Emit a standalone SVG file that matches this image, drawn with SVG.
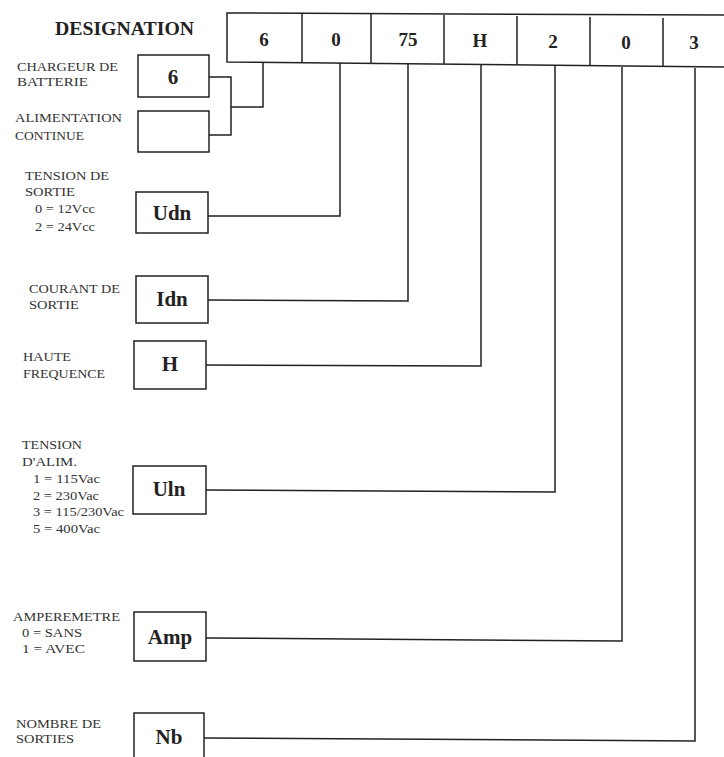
<svg xmlns="http://www.w3.org/2000/svg" width="724" height="757" viewBox="0 0 724 757">
<style>
.bg{fill:#fff}
.box{fill:#fff;stroke:#222;stroke-width:1.5}
.ln{fill:none;stroke:#222;stroke-width:1.5}
.lbl{font-family:"Liberation Serif",serif;font-size:11.5px;fill:#333}
.big{font-family:"Liberation Serif",serif;font-size:21px;font-weight:bold;fill:#222;text-anchor:middle}
.cell{font-family:"Liberation Serif",serif;font-size:19px;font-weight:bold;fill:#222;text-anchor:middle}
.title{font-family:"Liberation Serif",serif;font-size:19px;font-weight:bold;fill:#222}
</style>
<rect class="bg" x="0" y="0" width="724" height="757"/>
<text class="title" x="55" y="35" textLength="139" lengthAdjust="spacingAndGlyphs">DESIGNATION</text>
<g id="designation">
<path class="ln" d="M724,15 L227,13 L227,62 L724,67"/>
<path class="ln" d="M302,13 V63 M371,14 V63 M444,15 V64 M517,16 V65 M590,17 V66 M663,18 V67"/>
<text class="cell" x="264" y="46">6</text>
<text class="cell" x="336" y="46">0</text>
<text class="cell" x="408" y="46">75</text>
<text class="cell" x="480" y="47">H</text>
<text class="cell" x="553" y="48">2</text>
<text class="cell" x="626" y="49">0</text>
<text class="cell" x="694" y="49">3</text>
</g>
<g id="chargeur">
<rect class="box" x="138" y="55" width="71" height="42"/>
<text class="big" x="173" y="84">6</text>
<text class="lbl" x="17" y="71" textLength="101" lengthAdjust="spacingAndGlyphs">CHARGEUR DE</text>
<text class="lbl" x="17" y="86" textLength="71" lengthAdjust="spacingAndGlyphs">BATTERIE</text>
</g>
<g id="alimentation">
<rect class="box" x="138" y="111" width="71" height="41"/>
<text class="lbl" x="15" y="122" textLength="107" lengthAdjust="spacingAndGlyphs">ALIMENTATION</text>
<text class="lbl" x="15" y="140" textLength="69" lengthAdjust="spacingAndGlyphs">CONTINUE</text>
</g>
<g id="udn">
<rect class="box" x="136" y="192" width="72" height="41"/>
<text class="big" x="172" y="220">Udn</text>
<text class="lbl" x="25" y="180" textLength="84" lengthAdjust="spacingAndGlyphs">TENSION DE</text>
<text class="lbl" x="25" y="196" textLength="50" lengthAdjust="spacingAndGlyphs">SORTIE</text>
<text class="lbl" x="35" y="213" textLength="60" lengthAdjust="spacingAndGlyphs">0 = 12Vcc</text>
<text class="lbl" x="35" y="231" textLength="60" lengthAdjust="spacingAndGlyphs">2 = 24Vcc</text>
</g>
<g id="idn">
<rect class="box" x="136" y="276" width="72" height="47"/>
<text class="big" x="172" y="306">Idn</text>
<text class="lbl" x="29" y="293" textLength="91" lengthAdjust="spacingAndGlyphs">COURANT DE</text>
<text class="lbl" x="29" y="309" textLength="50" lengthAdjust="spacingAndGlyphs">SORTIE</text>
</g>
<g id="h">
<rect class="box" x="134" y="341" width="72" height="48"/>
<text class="big" x="170" y="371">H</text>
<text class="lbl" x="23" y="361" textLength="48" lengthAdjust="spacingAndGlyphs">HAUTE</text>
<text class="lbl" x="23" y="378" textLength="82" lengthAdjust="spacingAndGlyphs">FREQUENCE</text>
</g>
<g id="uln">
<rect class="box" x="133" y="466" width="73" height="48"/>
<text class="big" x="169" y="496">Uln</text>
<text class="lbl" x="22" y="449" textLength="60" lengthAdjust="spacingAndGlyphs">TENSION</text>
<text class="lbl" x="22" y="466" textLength="55" lengthAdjust="spacingAndGlyphs">D'ALIM.</text>
<text class="lbl" x="33" y="483" textLength="67" lengthAdjust="spacingAndGlyphs">1 = 115Vac</text>
<text class="lbl" x="33" y="500" textLength="66" lengthAdjust="spacingAndGlyphs">2 = 230Vac</text>
<text class="lbl" x="33" y="516" textLength="91" lengthAdjust="spacingAndGlyphs">3 = 115/230Vac</text>
<text class="lbl" x="33" y="533" textLength="67" lengthAdjust="spacingAndGlyphs">5 = 400Vac</text>
</g>
<g id="amp">
<rect class="box" x="134" y="612" width="72" height="49"/>
<text class="big" x="170" y="644">Amp</text>
<text class="lbl" x="13" y="621" textLength="107" lengthAdjust="spacingAndGlyphs">AMPEREMETRE</text>
<text class="lbl" x="22" y="637" textLength="60" lengthAdjust="spacingAndGlyphs">0 = SANS</text>
<text class="lbl" x="22" y="653" textLength="63" lengthAdjust="spacingAndGlyphs">1 = AVEC</text>
</g>
<g id="nb">
<rect class="box" x="134" y="713" width="70" height="60"/>
<text class="big" x="169" y="744">Nb</text>
<text class="lbl" x="16" y="728" textLength="85" lengthAdjust="spacingAndGlyphs">NOMBRE DE</text>
<text class="lbl" x="16" y="743" textLength="58" lengthAdjust="spacingAndGlyphs">SORTIES</text>
</g>
<g id="connectors">
<path class="ln" d="M209,77 H231 V135 H209 M231,107 H263 V62"/>
<path class="ln" d="M208,216 H340 V63"/>
<path class="ln" d="M208,300 L408,301 V64"/>
<path class="ln" d="M206,365 L481,366 V65"/>
<path class="ln" d="M206,490 L555,492 V66"/>
<path class="ln" d="M206,638 L622,641 V67"/>
<path class="ln" d="M204,738 L695,741 V68"/>
</g>
</svg>
